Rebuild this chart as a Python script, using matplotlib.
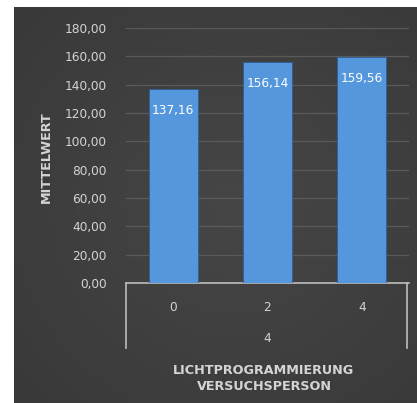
import numpy as np
import matplotlib
matplotlib.use("Agg")
import matplotlib.pyplot as plt
from matplotlib.lines import Line2D

# Data
categories = ["0", "2", "4"]
outer_category = "4"
values = [137.16, 156.14, 159.56]
value_labels = ["137,16", "156,14", "159,56"]
yticks = [0, 20, 40, 60, 80, 100, 120, 140, 160, 180]
ytick_labels = ["0,00", "20,00", "40,00", "60,00", "80,00", "100,00",
                "120,00", "140,00", "160,00", "180,00"]
x_title = "LICHTPROGRAMMIERUNG\nVERSUCHSPERSON"
y_title = "MITTELWERT"

W, H = 417, 403
fig = plt.figure(figsize=(W / 100, H / 100), dpi=100)
fig.patch.set_facecolor("white")

# Dark background panel with soft radial gradient
bg = fig.add_axes([14 / W, 0, (W - 14) / W, (H - 7) / H])
yy, xx = np.mgrid[0:1:200j, 0:1:200j]
r = np.sqrt((xx - 0.55) ** 2 + (yy - 0.5) ** 2)
grad = 0.275 - 0.07 * r
bg.imshow(np.dstack([grad, grad, grad]), aspect="auto", extent=[0, 1, 0, 1],
          interpolation="bilinear")
bg.set_axis_off()

text_col = "#d4d4d4"
grid_col = "#5a5a5a"
axis_col = "#bdbdbd"
bar_col = "#5597dc"

ax = fig.add_axes([126 / W, (H - 283) / H, 283 / W, 255 / H])
ax.patch.set_alpha(0)
x = np.arange(len(categories))
bars = ax.bar(x, values, width=0.52, color=bar_col, edgecolor="#2f5f93",
              linewidth=0.6, zorder=3)
ax.set_xlim(-0.5, len(categories) - 0.5)
ax.set_ylim(0, 180)
ax.set_yticks(yticks)
ax.set_yticklabels(ytick_labels)
ax.yaxis.grid(True, color=grid_col, linewidth=0.9, zorder=0)
ax.set_axisbelow(True)
for s in ["top", "right", "left"]:
    ax.spines[s].set_visible(False)
ax.spines["bottom"].set_color(axis_col)
ax.spines["bottom"].set_linewidth(1.2)
ax.tick_params(axis="y", length=0, pad=14, labelsize=8.7, labelcolor=text_col)
ax.set_xticks(x)
ax.set_xticklabels(categories)
ax.tick_params(axis="x", length=0, pad=13, labelsize=8.7, labelcolor=text_col)

for xi, v, lab in zip(x, values, value_labels):
    ax.annotate(lab, (xi, v), xytext=(0, -15.5), textcoords="offset points",
                ha="center", va="center", fontsize=8.7, color="white", zorder=4)

# Multi-level category box
for xf in [0.0, 281 / 283]:
    ax.add_line(Line2D([xf, xf], [0, -65 / 255], transform=ax.transAxes,
                       color=axis_col, linewidth=1.2, clip_on=False))
ax.annotate(outer_category, (0.5, 0), xycoords="axes fraction",
            xytext=(0, -55 * 0.72), textcoords="offset points",
            ha="center", va="center", fontsize=8.7, color=text_col)

fig.text(264 / W, 1 - 379 / H, x_title, ha="center", va="center",
         fontsize=9.2, fontweight="bold", color=text_col, linespacing=1.3)
fig.text(46 / W, 1 - 157 / H, y_title, ha="center", va="center", rotation=90,
         fontsize=9.2, fontweight="bold", color=text_col)

fig.savefig("out.png", dpi=100, facecolor=fig.get_facecolor())
